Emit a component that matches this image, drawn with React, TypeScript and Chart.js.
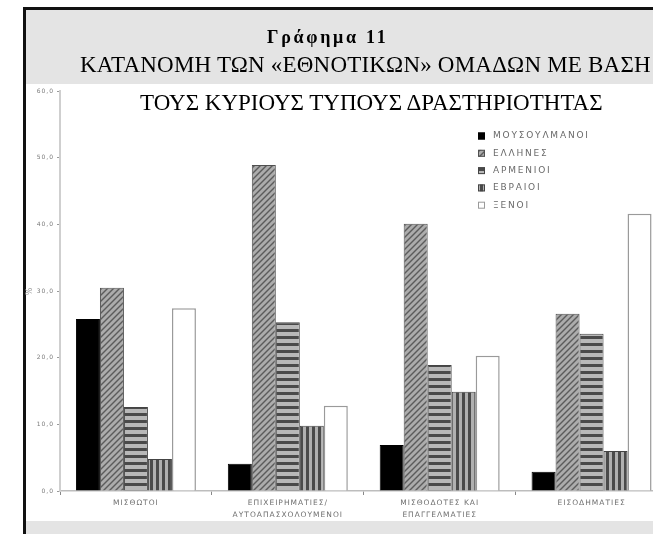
import React, { useEffect, useRef } from "react";
import { Chart, registerables } from "chart.js";
Chart.register(...registerables);

const categories: string[][] = [
  ["ΜΙΣΘΩΤΟΙ"],
  ["ΕΠΙΧΕΙΡΗΜΑΤΙΕΣ/", "ΑΥΤΟΑΠΑΣΧΟΛΟΥΜΕΝΟΙ"],
  ["ΜΙΣΘΟΔΟΤΕΣ ΚΑΙ", "ΕΠΑΓΓΕΛΜΑΤΙΕΣ"],
  ["ΕΙΣΟΔΗΜΑΤΙΕΣ"],
];
const seriesNames = ["ΜΟΥΣΟΥΛΜΑΝΟΙ", "ΕΛΛΗΝΕΣ", "ΑΡΜΕΝΙΟΙ", "ΕΒΡΑΙΟΙ", "ΞΕΝΟΙ"];
const muslims = [25.8, 4.1, 6.9, 2.9];
const greeks = [30.5, 48.9, 40.1, 26.6];
const armenians = [12.6, 25.3, 18.9, 23.6];
const jews = [4.8, 9.8, 14.9, 6.0];
const foreigners = [27.4, 12.8, 20.3, 41.6];
const yTickLabels = ["0,0", "10,0", "20,0", "30,0", "40,0", "50,0", "60,0"];
const yAxisTitle = "%";
const titleLine1 = "Γράφημα 11";
const titleLine2 = "ΚΑΤΑΝΟΜΗ ΤΩΝ «ΕΘΝΟΤΙΚΩΝ» ΟΜΑΔΩΝ ΜΕ ΒΑΣΗ";
const titleLine3 = "ΤΟΥΣ ΚΥΡΙΟΥΣ ΤΥΠΟΥΣ ΔΡΑΣΤΗΡΙΟΤΗΤΑΣ";

function makePattern(kind: string): CanvasPattern | string {
  const c = document.createElement("canvas");
  const ctx = c.getContext("2d")!;
  if (kind === "diag") {
    c.width = 6;
    c.height = 6;
    ctx.fillStyle = "#acacac";
    ctx.fillRect(0, 0, 6, 6);
    ctx.strokeStyle = "#5c5c5c";
    ctx.lineWidth = 1.4;
    for (const o of [-6, 0, 6]) {
      ctx.beginPath();
      ctx.moveTo(o - 1, 7);
      ctx.lineTo(o + 7, -1);
      ctx.stroke();
    }
  } else if (kind === "horiz") {
    c.width = 4;
    c.height = 7;
    ctx.fillStyle = "#b8b8b8";
    ctx.fillRect(0, 0, 4, 7);
    ctx.fillStyle = "#4a4a4a";
    ctx.fillRect(0, 0, 4, 3);
  } else if (kind === "vert") {
    c.width = 6;
    c.height = 4;
    ctx.fillStyle = "#b0b0b0";
    ctx.fillRect(0, 0, 6, 4);
    ctx.fillStyle = "#4a4a4a";
    ctx.fillRect(0, 0, 3, 4);
  }
  return ctx.createPattern(c, "repeat")!;
}

export default function App() {
  const ref = useRef<HTMLCanvasElement>(null);
  useEffect(() => {
    const fills = [
      "#000000",
      makePattern("diag"),
      makePattern("horiz"),
      makePattern("vert"),
      "#ffffff",
    ];
    const borders = ["#000000", "#505050", "#444444", "#444444", "#9a9a9a"];
    const series = [muslims, greeks, armenians, jews, foreigners];

    const legendPlugin = {
      id: "customLegend",
      beforeDraw(chart: any) {
        chart.ctx.letterSpacing = "1px";
      },
      afterDraw(chart: any) {
        const ctx = chart.ctx as CanvasRenderingContext2D;
        ctx.save();
        ctx.letterSpacing = "1.8px";
        ctx.font = "9px 'DejaVu Sans'";
        ctx.textBaseline = "middle";
        chart.data.datasets.forEach((ds: any, i: number) => {
          const y = 136 + i * 17.3;
          ctx.fillStyle = ds.backgroundColor;
          ctx.fillRect(478, y - 3.5, 7, 7);
          ctx.strokeStyle = ds.borderColor;
          ctx.lineWidth = 1;
          ctx.strokeRect(478.5, y - 3, 6, 6);
          ctx.fillStyle = "#6a6a6a";
          ctx.fillText(ds.label, 493, y);
        });
        ctx.restore();
      },
    };

    const chart = new Chart(ref.current!, {
      type: "bar",
      data: {
        labels: categories,
        datasets: series.map((d, i) => ({
          label: seriesNames[i],
          data: d,
          backgroundColor: fills[i] as any,
          borderColor: borders[i],
          borderWidth: i === 4 ? 1.5 : 1,
          categoryPercentage: 0.79,
          barPercentage: 1,
        })),
      },
      options: {
        animation: false,
        responsive: false,
        layout: { padding: { left: 0, top: 91, right: 32.5, bottom: 13 } },
        plugins: { legend: { display: false }, tooltip: { enabled: false } },
        scales: {
          x: {
            afterFit: (s: any) => {
              s.height = 30;
            },
            grid: {
              display: true,
              offset: true,
              drawOnChartArea: false,
              drawTicks: true,
              tickLength: 4,
              color: "#888",
            },
            border: { display: true, color: "#bdbdbd", width: 1.5 },
            ticks: {
              font: { size: 7.5, family: "'DejaVu Sans'", lineHeight: 1.6 },
              color: "#707070",
              padding: 2,
              maxRotation: 0,
              autoSkip: false,
            },
          },
          y: {
            min: 0,
            max: 60,
            afterFit: (s: any) => {
              s.width = 60;
            },
            grid: {
              drawOnChartArea: false,
              drawTicks: true,
              tickLength: 3,
              color: "#999",
            },
            border: { display: true, color: "#cfcfcf", width: 2 },
            title: {
              display: true,
              text: yAxisTitle,
              color: "#999",
              font: { size: 8, family: "'DejaVu Sans'" },
              padding: { top: 25, bottom: 0 },
            },
            ticks: {
              stepSize: 10,
              padding: 3,
              color: "#7a7a7a",
              font: { size: 6, family: "'DejaVu Sans'" },
              callback: (_v: any, i: number) => yTickLabels[i],
            },
          },
        },
      },
      plugins: [legendPlugin],
    } as any);
    return () => chart.destroy();
  }, []);

  const serif = "'Liberation Serif', 'Times New Roman', serif";
  return (
    <div
      style={{
        position: "fixed",
        left: 0,
        top: 0,
        width: 653,
        height: 534,
        overflow: "hidden",
        background: "#ffffff",
      }}
    >
      <div style={{ position: "absolute", left: 26, top: 10, width: 627, height: 74, background: "#e4e4e4" }} />
      <div style={{ position: "absolute", left: 26, top: 521, width: 627, height: 13, background: "#e4e4e4" }} />
      <div style={{ position: "absolute", left: 23, top: 7, width: 630, height: 3, background: "#111" }} />
      <div style={{ position: "absolute", left: 23, top: 7, width: 3, height: 527, background: "#111" }} />
      <canvas
        ref={ref}
        width={700}
        height={534}
        style={{ position: "absolute", left: 0, top: 0, width: 700, height: 534 }}
      />
      <div
        style={{
          position: "absolute",
          left: 267,
          top: 28,
          fontFamily: serif,
          fontWeight: "bold",
          fontSize: 18,
          lineHeight: "18px",
          letterSpacing: 2.7,
          whiteSpace: "nowrap",
          color: "#000",
        }}
      >
        {titleLine1}
      </div>
      <div
        style={{
          position: "absolute",
          left: 80,
          top: 53,
          fontFamily: serif,
          fontSize: 23,
          lineHeight: "23px",
          letterSpacing: 0.2,
          whiteSpace: "nowrap",
          color: "#000",
        }}
      >
        {titleLine2}
      </div>
      <div
        style={{
          position: "absolute",
          left: 140,
          top: 91,
          fontFamily: serif,
          fontSize: 23,
          lineHeight: "23px",
          whiteSpace: "nowrap",
          color: "#000",
        }}
      >
        {titleLine3}
      </div>
    </div>
  );
}
